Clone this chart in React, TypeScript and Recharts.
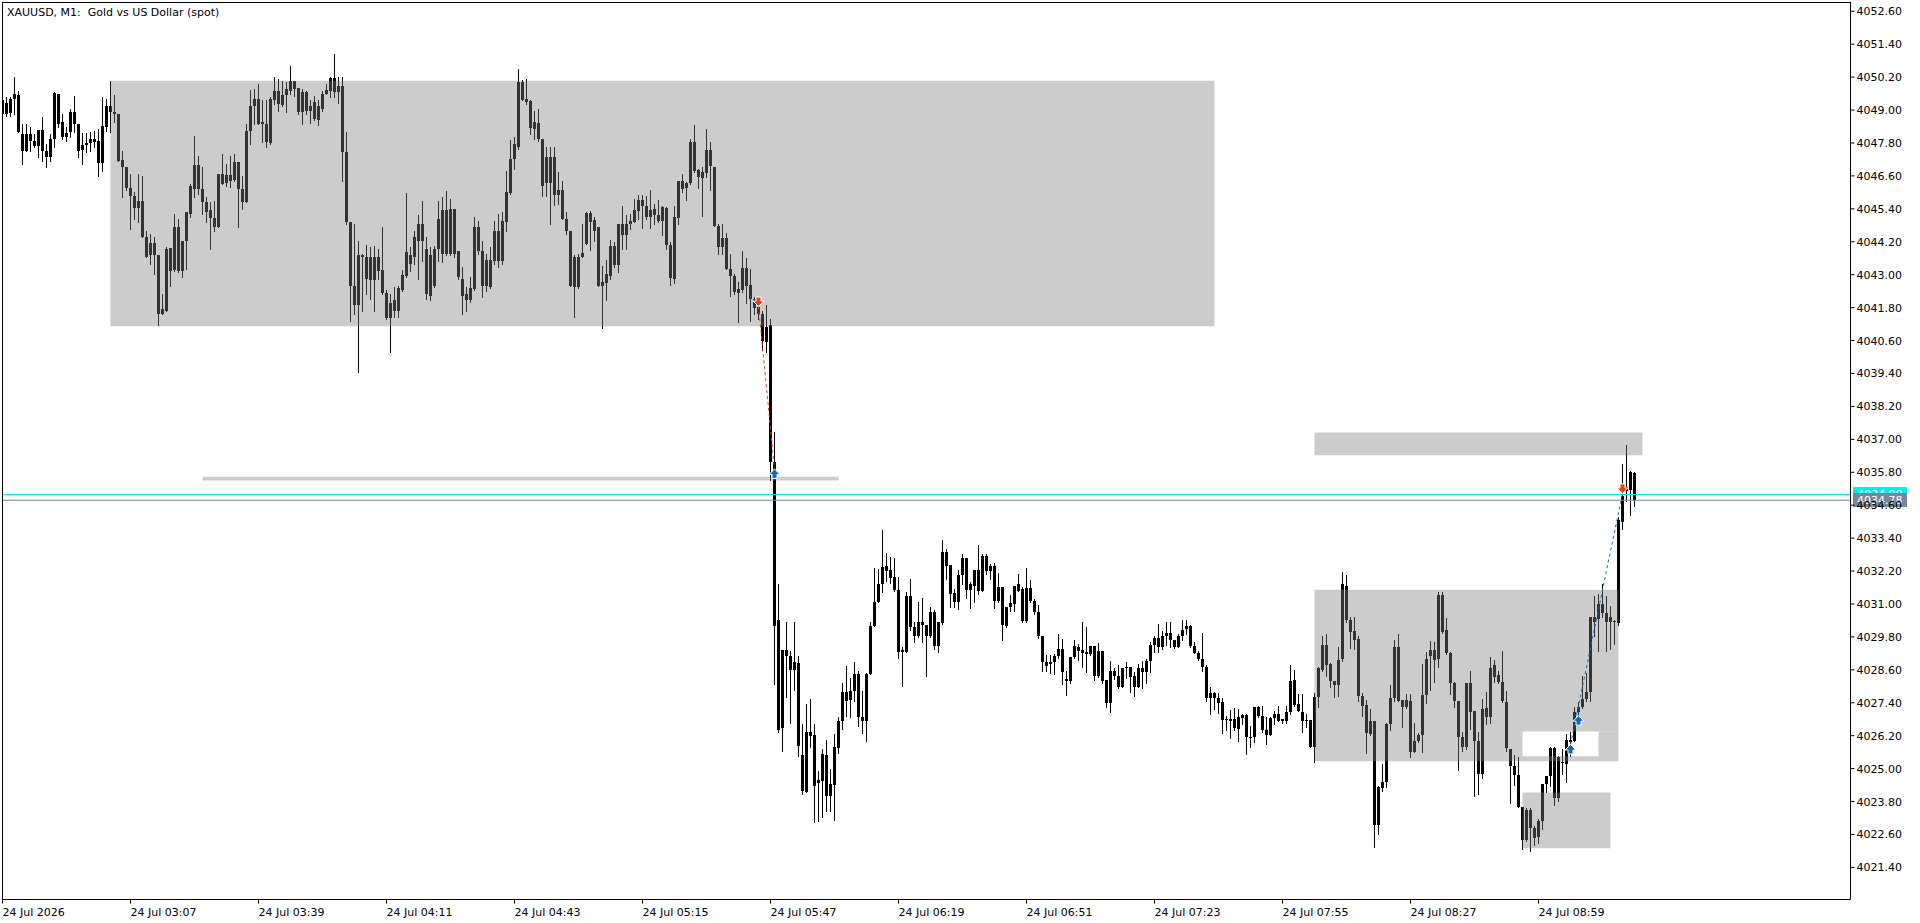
import React from 'react';
import { ComposedChart, Bar, XAxis, YAxis, ReferenceArea, ReferenceLine, ReferenceDot } from 'recharts';

const symbolTitle = 'XAUUSD, M1:  Gold vs US Dollar (spot)';
const dayLabel = '24 Jul';
const yearLabel = '2026';
const firstBarMinute = 2 * 60 + 35; // first bar is 02:35
const barSlots = 462; // visible bar slots incl. empty right shift

// OHLC per minute bar
const opens = [
  4049.35, 4048.86, 4048.90, 4049.39, 4049.56, 4048.13, 4047.52, 4048.13, 4047.89, 4047.70,
  4048.28, 4047.52, 4047.28, 4047.95, 4049.59, 4048.56, 4048.01, 4048.19, 4048.92, 4048.50,
  4047.55, 4047.74, 4047.79, 4047.95, 4047.86, 4047.06, 4048.40, 4049.13, 4048.92, 4048.86,
  4047.18, 4046.94, 4046.16, 4045.88, 4045.43, 4045.70, 4044.37, 4043.70, 4044.15, 4043.73,
  4041.57, 4041.69, 4043.98, 4043.17, 4044.75, 4043.15, 4044.22, 4045.22, 4046.13, 4047.01,
  4046.13, 4045.64, 4045.34, 4045.07, 4044.75, 4046.67, 4046.33, 4046.65, 4046.45, 4047.10,
  4046.13, 4045.64, 4048.25, 4049.13, 4049.39, 4048.50, 4048.50, 4047.79, 4049.35, 4049.69,
  4049.20, 4049.55, 4049.71, 4050.07, 4049.81, 4048.92, 4049.65, 4048.98, 4049.28, 4048.64,
  4049.04, 4049.59, 4049.71, 4050.17, 4049.65, 4049.86, 4047.46, 4044.91, 4042.60, 4041.88,
  4043.73, 4043.64, 4042.81, 4043.66, 4043.15, 4043.17, 4042.32, 4041.42, 4042.06, 4041.69,
  4042.45, 4042.97, 4043.70, 4043.66, 4044.24, 4044.83, 4043.94, 4043.73, 4042.60, 4043.94,
  4045.34, 4043.76, 4045.40, 4043.76, 4043.85, 4042.85, 4042.30, 4042.06, 4042.48, 4044.75,
  4043.88, 4042.57, 4043.54, 4043.51, 4044.61, 4043.49, 4044.91, 4045.97, 4047.22, 4047.64,
  4050.01, 4049.41, 4049.32, 4048.31, 4048.52, 4047.95, 4046.33, 4047.28, 4045.92, 4046.09,
  4046.09, 4045.03, 4044.61, 4042.54, 4043.66, 4043.66, 4044.12, 4045.24, 4045.00, 4044.75,
  4042.60, 4042.69, 4042.97, 4044.03, 4043.37, 4044.86, 4044.43, 4044.83, 4044.92, 4045.32,
  4045.74, 4045.52, 4045.12, 4045.38, 4045.18, 4044.95, 4045.44, 4044.07, 4042.83, 4045.07,
  4046.40, 4046.15, 4046.34, 4047.83, 4046.80, 4046.53, 4046.70, 4047.56, 4046.94, 4044.79,
  4044.00, 4044.33, 4043.22, 4042.97, 4042.33, 4042.43, 4043.25, 4042.61, 4042.12, 4041.82,
  4041.55, 4040.54, 4041.15, 4036.19, 4030.43, 4026.47, 4029.34, 4029.12, 4028.61, 4028.85,
  4025.51, 4024.16, 4026.35, 4026.24, 4024.47, 4024.56, 4025.51, 4023.99, 4024.42, 4025.74,
  4026.72, 4027.78, 4027.50, 4027.82, 4028.43, 4026.89, 4026.72, 4028.43, 4030.21, 4031.06,
  4031.73, 4032.19, 4032.22, 4031.97, 4031.52, 4029.26, 4029.26, 4031.30, 4030.15, 4029.85,
  4030.25, 4030.25, 4029.85, 4030.72, 4029.48, 4030.31, 4032.88, 4032.42, 4031.39, 4031.06,
  4032.06, 4032.68, 4031.52, 4031.64, 4032.25, 4031.49, 4032.76, 4032.19, 4032.40, 4031.12,
  4031.61, 4030.19, 4030.88, 4031.00, 4031.71, 4031.55, 4030.37, 4031.58, 4031.12, 4030.72,
  4029.85, 4028.87, 4028.81, 4028.87, 4029.09, 4029.36, 4028.18, 4028.21, 4029.06, 4029.45,
  4029.34, 4029.18, 4029.18, 4029.48, 4028.37, 4029.30, 4028.24, 4027.38, 4028.57, 4028.39,
  4027.97, 4028.66, 4028.72, 4028.36, 4027.97, 4028.66, 4028.51, 4028.94, 4029.49, 4029.75,
  4029.42, 4029.85, 4029.95, 4029.67, 4029.42, 4029.85, 4030.09, 4030.21, 4029.46, 4029.22,
  4029.00, 4028.70, 4027.58, 4027.76, 4027.57, 4027.42, 4026.78, 4026.81, 4026.47, 4026.87,
  4026.84, 4026.96, 4026.14, 4026.17, 4027.26, 4026.90, 4026.41, 4026.23, 4026.85, 4026.99,
  4026.73, 4026.73, 4027.06, 4028.23, 4027.36, 4027.08, 4026.75, 4026.78, 4025.78, 4027.60,
  4028.61, 4029.51, 4028.82, 4028.19, 4028.03, 4029.00, 4031.67, 4030.40, 4030.00, 4029.73,
  4027.63, 4027.33, 4026.27, 4026.75, 4022.93, 4024.30, 4024.50, 4026.63, 4027.58, 4029.45,
  4027.51, 4027.24, 4027.48, 4025.60, 4026.00, 4026.21, 4027.70, 4029.12, 4029.33, 4029.00,
  4031.33, 4030.06, 4029.22, 4028.11, 4027.48, 4026.14, 4025.77, 4028.11, 4027.11, 4026.02,
  4024.80, 4027.20, 4026.89, 4028.79, 4028.42, 4028.17, 4027.44, 4025.71, 4025.08, 4024.77,
  4023.61, 4022.40, 4023.49, 4022.83, 4022.49, 4023.08, 4024.44, 4024.74, 4025.75, 4023.92,
  4025.23, 4025.17, 4026.04, 4026.02, 4027.07, 4027.23, 4027.54, 4027.78, 4030.51, 4030.45,
  4030.99, 4030.66, 4030.33, 4030.39, 4030.29, 4033.97, 4035.13, 4035.15, 4035.77,
];

const highs = [
  4050.58, 4049.47, 4049.47, 4050.22, 4049.71, 4048.50, 4048.50, 4048.37, 4048.13, 4048.28,
  4048.74, 4047.77, 4048.13, 4049.65, 4049.59, 4048.86, 4048.37, 4049.04, 4049.53, 4048.50,
  4048.16, 4048.16, 4048.19, 4048.25, 4048.31, 4049.47, 4049.41, 4050.07, 4049.55, 4048.86,
  4047.52, 4046.94, 4046.67, 4046.00, 4046.67, 4046.61, 4044.61, 4044.49, 4044.39, 4043.73,
  4042.30, 4044.00, 4043.98, 4045.22, 4045.03, 4044.24, 4045.28, 4046.31, 4048.07, 4047.34,
  4046.92, 4045.82, 4045.64, 4045.70, 4046.67, 4047.40, 4047.04, 4047.34, 4047.40, 4047.10,
  4046.61, 4048.50, 4049.73, 4049.77, 4049.95, 4049.35, 4049.35, 4049.47, 4050.22, 4050.14,
  4050.07, 4050.01, 4050.62, 4050.07, 4049.81, 4049.77, 4049.71, 4049.37, 4049.53, 4049.35,
  4049.71, 4049.95, 4050.22, 4051.05, 4050.22, 4050.22, 4048.19, 4044.91, 4044.85, 4044.24,
  4043.76, 4044.10, 4044.02, 4044.06, 4043.94, 4044.73, 4042.45, 4042.30, 4042.54, 4042.60,
  4043.17, 4045.97, 4044.00, 4044.61, 4045.19, 4045.70, 4044.39, 4044.00, 4044.06, 4045.70,
  4045.82, 4046.04, 4045.76, 4045.40, 4043.85, 4043.27, 4042.54, 4042.91, 4045.09, 4044.97,
  4044.24, 4043.76, 4044.00, 4044.97, 4045.22, 4045.28, 4046.79, 4047.91, 4048.01, 4050.48,
  4050.10, 4050.14, 4049.35, 4048.98, 4049.04, 4047.95, 4047.64, 4047.64, 4047.64, 4046.73,
  4046.43, 4045.28, 4044.61, 4043.70, 4043.76, 4044.85, 4045.28, 4045.31, 4045.09, 4044.75,
  4043.31, 4043.54, 4044.25, 4044.19, 4044.86, 4045.49, 4045.16, 4045.22, 4045.77, 4045.89,
  4045.91, 4045.85, 4046.07, 4045.58, 4045.71, 4045.52, 4045.46, 4044.19, 4045.49, 4046.40,
  4046.68, 4046.37, 4047.95, 4048.44, 4046.86, 4046.92, 4048.32, 4047.83, 4046.94, 4044.86,
  4044.86, 4044.51, 4043.74, 4043.01, 4042.75, 4043.88, 4043.62, 4043.22, 4042.18, 4041.88,
  4041.67, 4041.88, 4041.39, 4037.26, 4031.73, 4029.34, 4030.36, 4029.30, 4030.36, 4029.12,
  4026.63, 4027.36, 4027.54, 4026.63, 4024.93, 4025.72, 4026.06, 4024.99, 4026.26, 4026.89,
  4028.11, 4028.75, 4028.30, 4028.87, 4028.57, 4027.82, 4028.47, 4030.36, 4032.30, 4032.28,
  4033.70, 4032.85, 4032.73, 4032.68, 4032.00, 4029.45, 4031.43, 4031.91, 4030.33, 4031.09,
  4031.21, 4030.25, 4030.90, 4030.78, 4030.36, 4033.33, 4033.01, 4032.42, 4031.55, 4032.22,
  4032.82, 4032.68, 4031.79, 4032.25, 4033.16, 4032.82, 4032.82, 4032.46, 4032.48, 4032.12,
  4031.61, 4030.88, 4031.34, 4031.67, 4032.09, 4031.63, 4032.31, 4031.89, 4031.18, 4030.98,
  4029.85, 4029.14, 4029.14, 4029.18, 4029.91, 4029.73, 4028.57, 4029.08, 4029.69, 4029.54,
  4030.36, 4030.17, 4029.48, 4029.48, 4029.58, 4029.30, 4028.24, 4028.94, 4028.67, 4028.78,
  4028.66, 4028.88, 4028.72, 4028.51, 4028.82, 4028.94, 4029.00, 4029.61, 4029.85, 4030.27,
  4030.03, 4030.36, 4030.36, 4029.67, 4029.91, 4030.43, 4030.43, 4030.25, 4029.61, 4029.30,
  4029.95, 4028.79, 4027.99, 4027.78, 4027.75, 4027.57, 4026.93, 4027.15, 4027.21, 4027.18,
  4026.99, 4026.99, 4026.57, 4027.26, 4027.30, 4027.30, 4026.87, 4026.87, 4027.09, 4027.30,
  4026.81, 4027.30, 4028.78, 4028.60, 4027.72, 4027.72, 4026.99, 4026.78, 4027.76, 4028.70,
  4029.85, 4029.91, 4028.84, 4028.21, 4029.45, 4032.18, 4032.07, 4030.52, 4030.52, 4029.85,
  4027.76, 4027.51, 4027.18, 4026.75, 4024.38, 4025.17, 4026.66, 4028.03, 4029.69, 4029.91,
  4027.51, 4027.72, 4027.72, 4026.66, 4026.30, 4028.82, 4029.24, 4029.64, 4029.61, 4031.45,
  4031.43, 4030.49, 4029.24, 4028.15, 4027.48, 4026.32, 4028.11, 4028.54, 4027.11, 4026.32,
  4027.54, 4027.80, 4029.05, 4028.96, 4028.54, 4029.30, 4027.82, 4025.71, 4025.50, 4025.41,
  4023.61, 4023.55, 4023.55, 4022.92, 4023.16, 4024.44, 4024.74, 4025.77, 4025.77, 4025.45,
  4025.71, 4026.26, 4026.32, 4027.23, 4027.41, 4028.39, 4028.47, 4030.51, 4031.30, 4031.36,
  4031.73, 4031.30, 4030.94, 4030.42, 4034.16, 4036.10, 4036.81, 4035.83, 4035.80,
];

const lows = [
  4048.80, 4048.80, 4048.80, 4048.86, 4048.19, 4047.04, 4047.52, 4047.52, 4047.64, 4047.28,
  4047.16, 4046.92, 4047.16, 4047.64, 4048.37, 4047.95, 4047.89, 4048.01, 4048.19, 4047.28,
  4047.04, 4047.46, 4047.52, 4047.64, 4046.61, 4046.79, 4048.25, 4048.19, 4048.56, 4047.16,
  4045.82, 4046.07, 4044.67, 4045.03, 4044.91, 4044.37, 4043.64, 4043.39, 4043.03, 4041.15,
  4041.55, 4041.69, 4042.60, 4043.15, 4043.09, 4042.91, 4043.21, 4045.09, 4045.82, 4045.95,
  4045.22, 4044.91, 4043.94, 4044.61, 4044.73, 4046.31, 4046.25, 4046.19, 4046.43, 4044.75,
  4045.40, 4045.64, 4047.77, 4048.50, 4048.50, 4047.83, 4047.64, 4047.77, 4049.22, 4048.98,
  4049.16, 4048.92, 4049.59, 4049.53, 4048.86, 4048.50, 4048.86, 4048.52, 4048.62, 4048.47,
  4048.98, 4049.59, 4049.47, 4049.47, 4049.25, 4046.43, 4044.85, 4041.33, 4041.57, 4039.44,
  4041.67, 4042.30, 4042.12, 4041.69, 4042.85, 4042.30, 4041.39, 4040.17, 4041.47, 4041.47,
  4042.42, 4042.91, 4043.15, 4043.39, 4042.85, 4043.51, 4042.12, 4042.08, 4042.54, 4043.51,
  4043.45, 4043.73, 4043.70, 4043.64, 4042.85, 4041.57, 4041.69, 4042.00, 4042.45, 4043.76,
  4042.18, 4042.42, 4042.52, 4043.39, 4043.27, 4043.39, 4044.61, 4045.95, 4046.86, 4047.58,
  4049.35, 4049.22, 4048.13, 4047.95, 4047.89, 4045.88, 4045.88, 4044.85, 4045.55, 4045.58,
  4045.03, 4044.49, 4042.57, 4041.45, 4042.52, 4043.64, 4044.12, 4043.90, 4044.24, 4042.57,
  4041.05, 4042.06, 4042.85, 4043.28, 4043.09, 4043.94, 4043.94, 4044.67, 4044.92, 4045.04,
  4044.70, 4045.04, 4044.70, 4044.86, 4044.92, 4044.43, 4043.94, 4042.61, 4042.69, 4044.86,
  4046.01, 4045.74, 4046.29, 4046.74, 4046.15, 4045.13, 4046.56, 4046.07, 4044.76, 4043.74,
  4043.74, 4043.19, 4042.24, 4042.30, 4041.27, 4042.36, 4041.96, 4041.33, 4041.57, 4041.39,
  4040.24, 4040.18, 4035.50, 4028.09, 4026.32, 4025.63, 4027.62, 4026.65, 4027.88, 4025.47,
  4024.08, 4024.14, 4025.78, 4023.04, 4023.10, 4023.23, 4023.44, 4023.47, 4023.14, 4025.56,
  4026.45, 4026.93, 4026.87, 4027.48, 4026.57, 4026.29, 4026.00, 4028.43, 4030.21, 4031.06,
  4031.43, 4031.85, 4031.75, 4031.46, 4029.03, 4028.02, 4029.24, 4030.05, 4029.60, 4029.79,
  4029.60, 4028.39, 4029.79, 4029.36, 4029.24, 4030.27, 4031.91, 4030.90, 4030.88, 4030.82,
  4031.73, 4031.21, 4030.84, 4031.06, 4031.37, 4031.46, 4032.09, 4031.91, 4030.85, 4031.06,
  4029.70, 4030.15, 4030.73, 4030.76, 4031.46, 4030.36, 4030.33, 4031.06, 4030.64, 4029.76,
  4028.57, 4028.57, 4028.49, 4028.43, 4029.02, 4028.09, 4027.70, 4028.12, 4029.02, 4028.96,
  4028.69, 4028.53, 4029.14, 4028.23, 4028.33, 4028.12, 4027.26, 4027.05, 4028.27, 4027.94,
  4027.97, 4028.31, 4027.78, 4027.64, 4027.97, 4027.93, 4028.11, 4028.51, 4029.24, 4029.24,
  4029.36, 4029.49, 4029.42, 4029.39, 4029.42, 4029.69, 4029.91, 4029.42, 4029.21, 4028.96,
  4028.55, 4027.48, 4026.99, 4027.18, 4027.03, 4026.30, 4026.39, 4026.12, 4026.39, 4026.00,
  4026.61, 4025.54, 4025.78, 4025.96, 4026.87, 4026.33, 4025.90, 4026.23, 4026.63, 4026.73,
  4026.65, 4026.67, 4026.99, 4027.30, 4027.09, 4026.33, 4026.51, 4025.78, 4025.23, 4027.26,
  4028.57, 4028.39, 4027.97, 4027.60, 4027.64, 4028.91, 4030.34, 4029.39, 4029.36, 4027.48,
  4026.93, 4025.56, 4026.24, 4022.14, 4022.62, 4024.18, 4024.32, 4026.39, 4027.48, 4027.46,
  4026.53, 4027.21, 4025.44, 4025.60, 4025.96, 4025.60, 4027.38, 4027.85, 4028.17, 4028.70,
  4029.93, 4029.18, 4027.72, 4027.24, 4024.95, 4025.65, 4025.71, 4026.44, 4024.01, 4024.07,
  4024.64, 4026.63, 4026.65, 4028.14, 4028.11, 4027.41, 4025.65, 4023.73, 4024.41, 4023.59,
  4022.07, 4022.37, 4022.01, 4022.23, 4022.28, 4022.80, 4024.13, 4024.38, 4023.67, 4023.83,
  4024.80, 4024.50, 4025.47, 4025.99, 4026.93, 4027.21, 4027.48, 4027.48, 4029.84, 4029.30,
  4030.54, 4029.30, 4029.36, 4029.54, 4030.25, 4033.73, 4034.76, 4034.25, 4034.58,
];

const closes = [
  4048.86, 4049.25, 4049.39, 4049.59, 4048.19, 4047.52, 4048.13, 4047.89, 4047.70, 4048.28,
  4047.52, 4047.28, 4047.95, 4049.61, 4048.50, 4048.01, 4048.16, 4048.92, 4048.50, 4047.52,
  4047.74, 4047.79, 4047.95, 4047.83, 4047.06, 4048.43, 4049.13, 4048.92, 4048.86, 4047.16,
  4046.92, 4046.16, 4045.85, 4045.43, 4045.70, 4044.37, 4043.66, 4044.15, 4043.70, 4041.57,
  4041.75, 4043.94, 4043.15, 4044.75, 4043.15, 4044.24, 4045.28, 4046.25, 4047.00, 4046.13,
  4045.64, 4045.28, 4045.07, 4044.75, 4046.67, 4046.31, 4046.65, 4046.43, 4047.10, 4046.13,
  4045.64, 4048.25, 4049.13, 4049.39, 4048.50, 4048.56, 4047.83, 4049.39, 4049.71, 4049.22,
  4049.55, 4049.77, 4050.07, 4049.77, 4048.92, 4049.65, 4048.98, 4049.13, 4048.68, 4049.13,
  4049.59, 4049.73, 4050.17, 4049.65, 4049.89, 4047.46, 4044.91, 4042.60, 4041.88, 4043.73,
  4043.64, 4042.85, 4043.66, 4042.79, 4043.66, 4042.32, 4041.42, 4041.96, 4041.69, 4042.52,
  4043.00, 4043.82, 4043.39, 4044.39, 4044.83, 4044.24, 4042.30, 4042.24, 4043.94, 4045.03,
  4043.76, 4045.36, 4043.76, 4045.40, 4042.91, 4042.24, 4042.08, 4042.52, 4044.75, 4043.88,
  4042.57, 4043.54, 4042.54, 4044.61, 4043.51, 4044.97, 4046.00, 4047.22, 4047.77, 4050.01,
  4049.37, 4049.28, 4048.35, 4048.56, 4047.95, 4046.25, 4047.28, 4046.33, 4047.28, 4045.92,
  4045.03, 4044.61, 4042.60, 4043.66, 4042.54, 4043.78, 4045.24, 4044.91, 4044.58, 4042.60,
  4042.73, 4043.01, 4044.03, 4043.37, 4044.86, 4044.43, 4044.86, 4044.94, 4045.34, 4045.74,
  4045.52, 4045.12, 4045.37, 4045.16, 4044.95, 4045.46, 4044.07, 4042.89, 4045.12, 4046.40,
  4046.13, 4046.35, 4047.83, 4046.77, 4046.56, 4046.74, 4047.53, 4046.96, 4044.77, 4044.00,
  4044.33, 4043.19, 4042.97, 4042.36, 4042.49, 4043.25, 4042.57, 4042.12, 4041.79, 4041.57,
  4040.60, 4041.11, 4036.17, 4030.21, 4026.42, 4029.34, 4029.09, 4028.61, 4028.90, 4025.81,
  4024.20, 4026.35, 4026.20, 4024.36, 4024.59, 4025.53, 4023.99, 4024.44, 4025.80, 4026.75,
  4027.78, 4027.48, 4027.84, 4028.45, 4026.87, 4026.72, 4028.43, 4030.21, 4031.09, 4031.73,
  4032.36, 4032.40, 4031.94, 4031.52, 4029.26, 4029.34, 4031.30, 4030.15, 4029.85, 4030.33,
  4030.36, 4029.85, 4030.72, 4029.46, 4030.36, 4032.88, 4032.40, 4031.37, 4031.06, 4032.06,
  4032.68, 4031.52, 4031.71, 4032.25, 4031.46, 4032.76, 4032.19, 4032.37, 4031.12, 4031.63,
  4030.24, 4030.88, 4031.02, 4031.67, 4031.49, 4030.37, 4031.58, 4031.12, 4030.70, 4029.85,
  4028.87, 4028.75, 4028.90, 4029.12, 4029.36, 4028.51, 4028.27, 4029.08, 4029.48, 4029.30,
  4029.20, 4029.26, 4029.48, 4028.37, 4029.30, 4028.21, 4027.38, 4028.57, 4028.37, 4027.96,
  4028.66, 4028.72, 4028.33, 4027.97, 4028.66, 4028.51, 4028.94, 4029.49, 4029.75, 4029.42,
  4029.85, 4029.95, 4029.67, 4029.42, 4029.85, 4030.06, 4030.21, 4029.46, 4029.22, 4029.00,
  4028.70, 4027.58, 4027.76, 4027.57, 4027.40, 4026.78, 4026.81, 4026.75, 4026.81, 4026.45,
  4026.96, 4026.14, 4026.17, 4027.26, 4026.90, 4026.41, 4026.23, 4026.85, 4026.99, 4026.73,
  4026.79, 4027.08, 4028.21, 4027.33, 4027.09, 4026.75, 4026.78, 4025.78, 4027.60, 4028.67,
  4029.51, 4028.79, 4028.19, 4028.03, 4028.96, 4031.71, 4030.40, 4029.97, 4029.70, 4027.63,
  4027.30, 4026.29, 4026.75, 4022.93, 4024.32, 4024.53, 4026.63, 4027.58, 4029.42, 4027.48,
  4027.24, 4027.51, 4025.60, 4026.02, 4026.23, 4027.69, 4029.00, 4029.33, 4028.97, 4031.31,
  4029.97, 4029.22, 4028.11, 4027.46, 4026.14, 4025.77, 4028.11, 4027.07, 4026.02, 4024.80,
  4027.17, 4026.89, 4028.67, 4028.35, 4028.14, 4027.45, 4025.74, 4025.08, 4024.77, 4023.61,
  4022.40, 4023.49, 4022.83, 4022.47, 4023.10, 4024.44, 4024.74, 4025.75, 4023.92, 4025.41,
  4025.19, 4026.04, 4025.96, 4027.07, 4027.23, 4027.54, 4027.78, 4030.51, 4030.33, 4030.99,
  4030.66, 4030.33, 4030.54, 4030.33, 4034.06, 4034.95, 4035.25, 4035.80, 4034.78,
];

const priceTicks = [
  4021.4, 4022.6, 4023.8, 4025.0, 4026.2, 4027.4, 4028.6, 4029.8, 4031.0, 4032.2,
  4033.4, 4034.6, 4035.8, 4037.0, 4038.2, 4039.4, 4040.6, 4041.8, 4043.0, 4044.2,
  4045.4, 4046.6, 4047.8, 4049.0, 4050.2, 4051.4, 4052.6,
];
const priceDomain = [4020.23, 4052.92];
const timeTicks = [0, 32, 64, 96, 128, 160, 192, 224, 256, 288, 320, 352, 384];

const bidPrice = 4034.78;
const askPrice = 4034.99;

// supply/demand boxes (bar index range, price range)
const zones = [
  { from: 27, to: 303, top: 4050.07, bottom: 4041.12 },
  { from: 50, to: 209, top: 4035.64, bottom: 4035.5 },
  { from: 328, to: 410, top: 4037.25, bottom: 4036.42 },
  // lower right box, split around its white cut-out
  { from: 328, to: 404, top: 4031.52, bottom: 4026.35 },
  { from: 328, to: 380, top: 4026.35, bottom: 4025.27 },
  { from: 399, to: 404, top: 4026.35, bottom: 4025.27 },
  { from: 380, to: 399, top: 4025.45, bottom: 4025.27 },
  { from: 380, to: 402, top: 4024.13, bottom: 4022.1 },
];

const deals = [
  { bar: 189, price: 4041.84, side: 'sell' },
  { bar: 193, price: 4035.92, side: 'buy' },
  { bar: 392, price: 4025.88, side: 'buy' },
  { bar: 394, price: 4026.93, side: 'buy' },
  { bar: 405, price: 4035.03, side: 'sell' },
];

const dealLinks = [
  { fromBar: 189, fromPrice: 4041.84, toBar: 193, toPrice: 4035.92, side: 'sell' },
  { fromBar: 392, fromPrice: 4025.88, toBar: 405, toPrice: 4035.03, side: 'buy' },
];

const rows = opens.map((o, i) => ({
  i,
  o,
  h: highs[i],
  l: lows[i],
  c: closes[i],
  range: [lows[i], highs[i]],
}));

const FONT = '"DejaVu Sans", Verdana, sans-serif';
const BUY = '#1565c0';
const SELL = '#e8401c';

const pad = (n: number) => String(n).padStart(2, '0');
const timeLabel = (i: number) => {
  if (i === 0) return `${dayLabel} ${yearLabel}`;
  const m = firstBarMinute + i;
  return `${dayLabel} ${pad(Math.floor(m / 60))}:${pad(m % 60)}`;
};

const Candle = (props: any) => {
  const { x, y, width, height, payload } = props;
  if (!payload || height == null) return null;
  const { o, h, l, c } = payload;
  const top = Math.min(y, y + height);
  const span = Math.abs(height);
  const perUnit = h > l ? span / (h - l) : 0;
  const cx = Math.floor(x + width / 2);
  const bodyTop = Math.round(top + (h - Math.max(o, c)) * perUnit);
  const bodyBottom = Math.round(top + (h - Math.min(o, c)) * perUnit);
  return (
    <g>
      <line
        x1={cx + 0.5}
        x2={cx + 0.5}
        y1={Math.round(top)}
        y2={Math.round(top + span) + 1}
        stroke="#000"
        strokeWidth={1}
        shapeRendering="crispEdges"
      />
      <rect
        x={cx - 1}
        y={bodyTop}
        width={3}
        height={Math.max(1, bodyBottom - bodyTop)}
        fill="#000"
        shapeRendering="crispEdges"
      />
    </g>
  );
};

const BuyArrow = ({ cx, cy }: any) => (
  <polygon
    points={`${cx},${cy} ${cx + 5.5},${cy + 5.5} ${cx + 2.5},${cy + 5.5} ${cx + 2.5},${cy + 9.5} ${cx - 2.5},${cy + 9.5} ${cx - 2.5},${cy + 5.5} ${cx - 5.5},${cy + 5.5}`}
    fill={BUY}
    stroke="#fff"
    strokeWidth={1}
  />
);

const SellArrow = ({ cx, cy }: any) => (
  <polygon
    points={`${cx},${cy} ${cx + 5.5},${cy - 5.5} ${cx + 2.5},${cy - 5.5} ${cx + 2.5},${cy - 9.5} ${cx - 2.5},${cy - 9.5} ${cx - 2.5},${cy - 5.5} ${cx - 5.5},${cy - 5.5}`}
    fill={SELL}
    stroke="#fff"
    strokeWidth={1}
  />
);

const TimeTick = ({ x, y, payload }: any) => (
  <text x={x} y={y + 10} fontFamily={FONT} fontSize={11} fill="#000" textAnchor="start">
    {timeLabel(payload.value)}
  </text>
);

const PriceTick = ({ x, y, payload }: any) => (
  <text x={x} y={y + 4} fontFamily={FONT} fontSize={11} fill="#000" textAnchor="start">
    {Number(payload.value).toFixed(2)}
  </text>
);

const PriceTag = ({ viewBox, text, bg }: any) => {
  if (!viewBox) return null;
  const x = Math.round(viewBox.x + viewBox.width) + 2;
  const y = Math.round(viewBox.y);
  return (
    <g>
      <rect x={x} y={y - 7} width={54} height={14} fill={bg} />
      <text x={x + 4} y={y + 4} fontFamily={FONT} fontSize={11} fill="#fff">
        {text}
      </text>
    </g>
  );
};

export default function App() {
  return (
    <div style={{ position: 'absolute', left: 0, top: 0, width: 1920, height: 923, background: '#fff' }}>
      <ComposedChart
        width={1920}
        height={923}
        data={rows}
        margin={{ top: 2.5, left: 2.5, right: 0, bottom: 0 }}
      >
        <XAxis
          dataKey="i"
          type="number"
          domain={[0, barSlots]}
          allowDataOverflow
          ticks={timeTicks}
          interval={0}
          height={23.5}
          tickSize={4}
          tickMargin={2}
          axisLine={{ stroke: '#000' }}
          tickLine={{ stroke: '#000' }}
          tick={TimeTick}
        />
        <YAxis
          orientation="right"
          type="number"
          domain={priceDomain}
          allowDataOverflow
          ticks={priceTicks}
          interval={0}
          width={69.5}
          tickSize={4}
          tickMargin={2}
          axisLine={{ stroke: '#000' }}
          tickLine={{ stroke: '#000' }}
          tick={PriceTick}
        />
        <Bar dataKey="range" barSize={4} shape={Candle} isAnimationActive={false} />
        {zones.map((z, k) => (
          <ReferenceArea
            key={`zone-${k}`}
            x1={z.from}
            x2={z.to}
            y1={z.bottom}
            y2={z.top}
            fill="#808080"
            fillOpacity={0.4}
            stroke="none"
            zIndex={350}
          />
        ))}
        <ReferenceLine
          y={askPrice}
          stroke="#00e8ef"
          strokeWidth={1}
          label={<PriceTag text={askPrice.toFixed(2)} bg="#00f0f0" />}
        />
        <ReferenceLine
          y={bidPrice}
          stroke="#778899"
          strokeWidth={1}
          label={<PriceTag text={bidPrice.toFixed(2)} bg="#778899" />}
        />
        {dealLinks.map((d, k) => (
          <ReferenceLine
            key={`link-${k}`}
            segment={[
              { x: d.fromBar, y: d.fromPrice },
              { x: d.toBar, y: d.toPrice },
            ]}
            stroke={d.side === 'buy' ? BUY : SELL}
            strokeWidth={1}
            strokeDasharray="3 3"
          />
        ))}
        {deals.map((d, k) => (
          <ReferenceDot
            key={`deal-${k}`}
            x={d.bar}
            y={d.price}
            r={5}
            shape={d.side === 'buy' ? BuyArrow : SellArrow}
          />
        ))}
      </ComposedChart>
      <div
        style={{
          position: 'absolute',
          left: 2,
          top: 2,
          width: 1849,
          height: 898,
          borderTop: '1px solid #000',
          borderLeft: '1px solid #000',
          boxSizing: 'border-box',
          pointerEvents: 'none',
        }}
      />
      <div
        style={{
          position: 'absolute',
          left: 7,
          top: 6,
          fontFamily: FONT,
          fontSize: 11,
          lineHeight: '13px',
          color: '#000',
          whiteSpace: 'pre',
        }}
      >
        {symbolTitle}
      </div>
    </div>
  );
}
